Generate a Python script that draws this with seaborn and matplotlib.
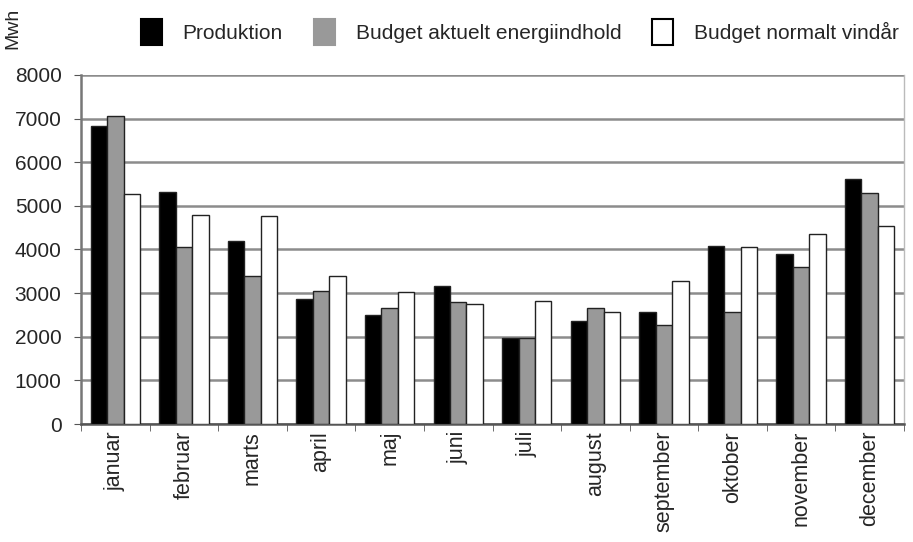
import pandas as pd
import numpy as np
import matplotlib
matplotlib.use("Agg")
import matplotlib.pyplot as plt
import seaborn as sns
from matplotlib.patches import Patch

months = ["januar", "februar", "marts", "april", "maj", "juni", "juli",
          "august", "september", "oktober", "november", "december"]
produktion = [6820, 5320, 4190, 2860, 2490, 3160, 1980, 2350, 2560, 4080, 3890, 5620]
budget_aktuelt = [7050, 4050, 3390, 3040, 2650, 2790, 1970, 2650, 2280, 2560, 3590, 5300]
budget_normalt = [5280, 4790, 4770, 3390, 3020, 2760, 2830, 2560, 3270, 4050, 4360, 4540]
series = ["Produktion", "Budget aktuelt energiindhold", "Budget normalt vindår"]
colors = ["#000000", "#999999", "#ffffff"]

df = pd.DataFrame({
    "month": months * 3,
    "value": produktion + budget_aktuelt + budget_normalt,
    "series": [s for s in series for _ in months],
})

sns.set_style("white")
plt.rcParams["font.family"] = ["Liberation Sans", "DejaVu Sans"]

fig = plt.figure(figsize=(9.13, 5.42), dpi=100)
ax = fig.add_axes([81 / 913, 1 - 424 / 542, (904 - 81) / 913, (424 - 75) / 542])

sns.barplot(data=df, x="month", y="value", hue="series", order=months,
            hue_order=series, palette=colors, width=0.72, saturation=1,
            edgecolor="#222222", linewidth=1.0, legend=False, ax=ax, zorder=3)

ax.set_ylim(0, 8000)
ax.set_xlim(-0.5, 11.5)
ax.set_yticks(range(0, 8001, 1000))
ax.yaxis.grid(True, color="#8c8c8c", linewidth=1.8, zorder=0)
ax.set_axisbelow(True)

ax.set_xticks(range(12))
ax.set_xticklabels(months, rotation=90, fontsize=15.5)
ax.set_xticks(np.arange(-0.5, 12, 1), minor=True)
ax.tick_params(axis="x", which="minor", bottom=True, length=5, color="#555555", direction="out")
ax.tick_params(axis="x", which="major", bottom=False, length=0, pad=5)
ax.tick_params(axis="y", left=True, length=5, color="#555555", direction="out", labelsize=15, pad=9)

ax.spines["top"].set_visible(False)
ax.spines["left"].set_color("#777777")
ax.spines["left"].set_linewidth(1.8)
ax.spines["bottom"].set_color("#555555")
ax.spines["bottom"].set_linewidth(1.8)
ax.spines["right"].set_color("#bbbbbb")
ax.spines["right"].set_linewidth(1.0)
ax.set_xlabel("")
ax.set_ylabel("")

fig.text(13 / 913, 1 - 28 / 542, "Mwh", rotation=90, fontsize=14, ha="center", va="center")

handles = [Patch(facecolor=c, edgecolor="#000000", linewidth=1.5) for c in colors]
handles[1] = Patch(facecolor=colors[1], edgecolor=colors[1], linewidth=1.5)
fig.legend(handles, series, loc="upper left", bbox_to_anchor=(122 / 913, 1.0), ncol=3,
           frameon=False, fontsize=15, handlelength=1.0, handleheight=1.55,
           columnspacing=1.5, handletextpad=1.0)

fig.savefig("out.png", dpi=100)
